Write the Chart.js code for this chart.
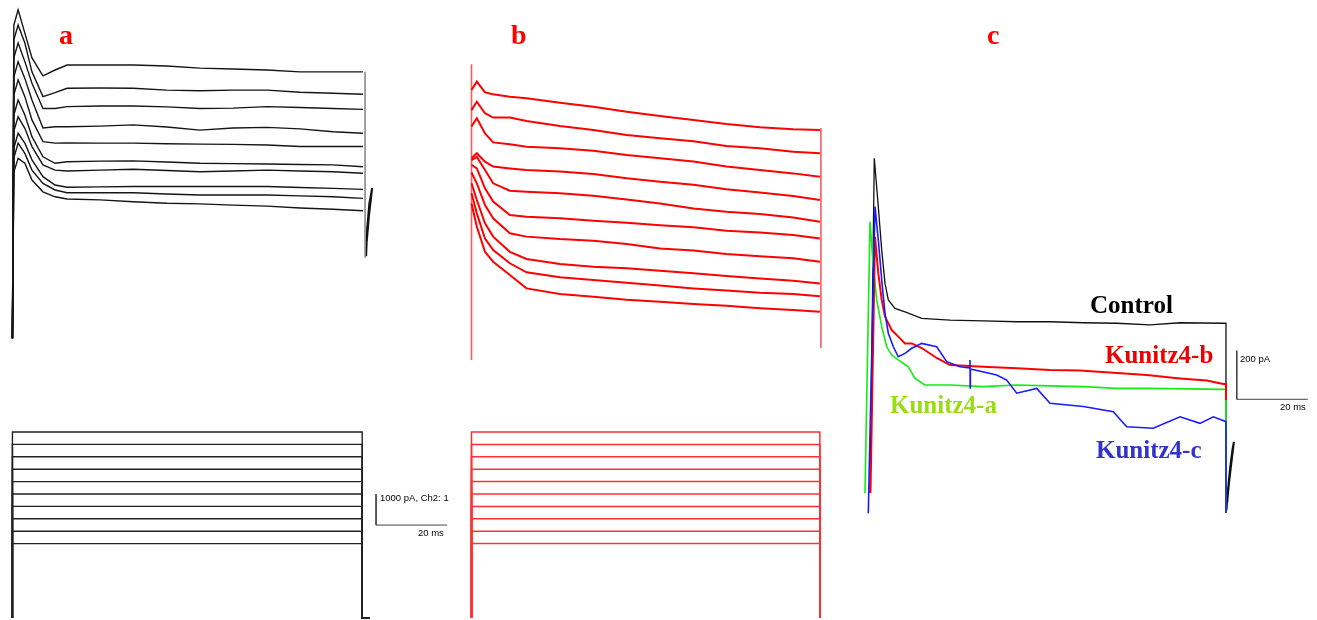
<!DOCTYPE html>
<html>
<head>
<meta charset="utf-8">
<title>Kunitz4 current traces</title>
<script src="https://cdn.jsdelivr.net/npm/chart.js@4.4.1/dist/chart.umd.min.js"></script>
<style>
  html, body { margin: 0; padding: 0; background: #fff; }
  #page { position: relative; width: 1317px; height: 620px; overflow: hidden; }
  canvas { position: absolute; top: 0; }
  .lbl { position: absolute; white-space: nowrap; line-height: 1; }
  .panel { font-family: "Liberation Serif", "Times New Roman", serif; font-weight: bold; color: #ff0000; font-size: 28px; }
  .trace { font-family: "Liberation Serif", "Times New Roman", serif; font-weight: bold; font-size: 25px; }
  .scale { font-family: "Liberation Sans", Arial, sans-serif; font-size: 9.5px; color: #000; }
</style>
</head>
<body>
<div id="page">
  <canvas id="panel-a" width="460" height="620" style="left:0px"></canvas>
  <canvas id="panel-b" width="380" height="620" style="left:460px"></canvas>
  <canvas id="panel-c" width="467" height="620" style="left:850px"></canvas>

  <div class="lbl panel" style="left:59px;top:21px">a</div>
  <div class="lbl panel" style="left:511px;top:21px">b</div>
  <div class="lbl panel" style="left:987px;top:21px">c</div>

  <div class="lbl trace" style="left:1090px;top:292px;color:#000">Control</div>
  <div class="lbl trace" style="left:1105px;top:342px;color:#ee0000">Kunitz4-b</div>
  <div class="lbl trace" style="left:890px;top:392px;color:#99dd11">Kunitz4-a</div>
  <div class="lbl trace" style="left:1096px;top:437px;color:#3333cc">Kunitz4-c</div>

  <div class="lbl scale" style="left:380px;top:493px">1000 pA, Ch2: 1</div>
  <div class="lbl scale" style="left:418px;top:528px">20 ms</div>
  <div class="lbl scale" style="left:1240px;top:354px">200 pA</div>
  <div class="lbl scale" style="left:1280px;top:402px">20 ms</div>
</div>

<script>
// ---- panel a: control currents (nA) on a 100 ms step ----
const timeA = [0, 0.4, 1.6, 3.5, 5.5, 8.6, 12, 15.4, 24.7, 34, 43.5, 52.8, 62.1, 71.7, 81, 90.3, 98.7];
const currentA = [
  [0.06, 10.16, 10.65, 9.90, 9.10, 8.52, 8.71, 8.87, 8.87, 8.87, 8.84, 8.77, 8.74, 8.71, 8.65, 8.65, 8.65],
  [0.06, 9.68, 10.16, 9.58, 8.65, 7.85, 7.98, 8.12, 8.13, 8.12, 8.06, 8.04, 8.06, 8.06, 7.99, 7.96, 7.93],
  [0.06, 9.10, 9.58, 8.98, 8.28, 7.47, 7.47, 7.53, 7.55, 7.55, 7.52, 7.47, 7.48, 7.53, 7.50, 7.47, 7.44],
  [0.06, 8.48, 8.98, 8.44, 7.74, 6.84, 6.88, 6.88, 6.90, 6.94, 6.87, 6.77, 6.84, 6.86, 6.81, 6.72, 6.67],
  [0.06, 7.90, 8.39, 7.85, 7.10, 6.40, 6.35, 6.36, 6.35, 6.35, 6.33, 6.32, 6.31, 6.29, 6.24, 6.24, 6.24],
  [0.06, 7.26, 7.74, 7.26, 6.56, 5.91, 5.70, 5.75, 5.77, 5.78, 5.74, 5.70, 5.69, 5.68, 5.66, 5.65, 5.59],
  [0.06, 6.74, 7.20, 6.83, 6.24, 5.65, 5.48, 5.45, 5.48, 5.51, 5.47, 5.43, 5.45, 5.48, 5.45, 5.43, 5.38],
  [0.06, 6.19, 6.67, 6.35, 5.81, 5.27, 5.00, 4.93, 4.94, 4.95, 4.95, 4.95, 4.95, 4.95, 4.92, 4.89, 4.86],
  [0.06, 5.87, 6.35, 6.02, 5.48, 5.05, 4.84, 4.75, 4.75, 4.75, 4.71, 4.68, 4.68, 4.68, 4.65, 4.62, 4.57],
  [0.06, 5.42, 5.86, 5.70, 5.16, 4.78, 4.62, 4.55, 4.52, 4.46, 4.41, 4.39, 4.35, 4.32, 4.26, 4.22, 4.17]
];
const tailTimeA = [99.3, 99.3];
const tailA = [8.65, 2.65];
const squiggleTimeA = [99.6, 99.9, 100.5, 101.3, 100.4, 99.8];
const squiggleA = [2.7, 3.6, 4.4, 4.9, 4.0, 3.2];

// ---- panel b: currents with toxin (nA) ----
const timeB = [0, 1.5, 3.8, 6.1, 10.8, 15.5, 24.9, 34.3, 43.7, 53.1, 62.5, 71.8, 81.2, 90.6, 98.1];
const currentB = [
  [8.71, 8.98, 8.63, 8.57, 8.49, 8.44, 8.30, 8.17, 8.01, 7.87, 7.74, 7.61, 7.51, 7.44, 7.42],
  [8.06, 8.33, 7.96, 7.82, 7.82, 7.71, 7.55, 7.42, 7.26, 7.15, 7.06, 6.90, 6.83, 6.72, 6.67],
  [7.53, 7.80, 7.31, 7.02, 6.96, 6.88, 6.83, 6.75, 6.61, 6.51, 6.40, 6.24, 6.13, 6.02, 5.91],
  [6.51, 6.67, 6.40, 6.24, 6.18, 6.13, 6.08, 6.00, 5.86, 5.75, 5.65, 5.51, 5.40, 5.29, 5.16],
  [6.45, 6.55, 6.13, 5.70, 5.46, 5.43, 5.38, 5.30, 5.18, 5.05, 4.89, 4.78, 4.71, 4.60, 4.46],
  [6.30, 6.18, 5.54, 5.11, 4.68, 4.62, 4.57, 4.49, 4.43, 4.35, 4.28, 4.17, 4.11, 4.03, 3.92],
  [6.05, 5.70, 5.00, 4.57, 4.09, 3.98, 3.90, 3.85, 3.74, 3.60, 3.53, 3.42, 3.35, 3.28, 3.17],
  [5.70, 5.16, 4.41, 3.98, 3.49, 3.26, 3.10, 3.01, 2.96, 2.88, 2.80, 2.71, 2.63, 2.56, 2.47],
  [5.38, 4.73, 3.92, 3.55, 3.12, 2.83, 2.67, 2.58, 2.49, 2.40, 2.31, 2.24, 2.17, 2.13, 2.06],
  [5.05, 4.30, 3.49, 3.17, 2.74, 2.31, 2.13, 2.04, 1.94, 1.88, 1.81, 1.75, 1.67, 1.61, 1.56]
];
const edgeTimeB = [0, 98.4];
const edgeB = [[9.54, 0], [7.48, 0.39]];

// ---- voltage protocol (mV) ----
const stepLevels = [50, 40, 30, 20, 10, 0, -10, -20, -30, -40];
const holdingV = -100;
const stepEndA = 98.5;
const stepEndB = 98.1;

// ---- panel c: overlay of control and Kunitz4 fractions (pA) ----
const timeControl = [0.28, 1.49, 2.62, 3.58, 4.51, 5.44, 7.32, 10.14, 14.85, 22.82, 32.2, 41.61, 51.0, 60.37, 69.77, 79.15, 87.61, 99.8, 100.56, 100.56];
const control = [49, 1427, 1228, 1049, 912, 844, 809, 795, 768, 761, 758, 754, 754, 750, 748, 741, 750, 748, 748, -33];
const timeK4b = [0.42, 1.69, 2.62, 3.58, 4.51, 6.39, 8.25, 10.14, 12.03, 14.85, 19.07, 22.82, 32.2, 41.61, 51.0, 59.44, 68.82, 78.23, 87.61, 95.13, 99.8, 100.56, 100.56];
const k4b = [49, 1104, 954, 844, 775, 720, 693, 665, 665, 646, 605, 576, 569, 563, 556, 553, 544, 535, 521, 512, 498, 498, 432];
const timeK4a = [-1.13, 0.28, 1.21, 2.17, 3.58, 4.99, 6.39, 8.25, 11.07, 12.96, 15.77, 22.82, 32.2, 41.61, 51.0, 60.37, 69.77, 79.15, 99.8, 100.56, 100.56];
const k4a = [48, 1166, 981, 844, 734, 651, 617, 597, 569, 521, 494, 494, 487, 494, 490, 487, 480, 480, 476, 476, -33];
const timeK4c = [-0.2, 1.69, 2.62, 3.58, 4.51, 5.44, 6.85, 8.25, 10.14, 12.03, 14.85, 19.07, 21.89, 25.63, 28.39, 28.45, 28.51, 28.56, 35.97, 38.79, 41.61, 47.24, 51.0, 60.37, 68.82, 72.59, 80.08, 87.61, 93.24, 96.99, 100.56, 100.56];
const k4c = [-34, 1228, 1091, 926, 789, 707, 651, 610, 624, 645, 665, 651, 590, 569, 564, 597, 482, 560, 535, 514, 460, 480, 419, 405, 384, 322, 316, 363, 336, 363, 343, -33];
const squiggleTimeC = [100.7, 101.1, 101.7, 102.4, 102.8, 102.3, 101.4, 100.9];
const squiggleC = [-20, 60, 150, 230, 260, 200, 90, 10];

function series(times, values) {
  return times.map((t, i) => ({ x: t, y: values[i] }));
}

function stepSeries(level, endTime, tail) {
  const pts = [
    { x: 0, y: holdingV },
    { x: 0, y: level },
    { x: endTime, y: level },
    { x: endTime, y: holdingV }
  ];
  if (tail) pts.push({ x: tail, y: holdingV });
  return pts;
}

function line(data, color, width, axis) {
  return {
    data: data,
    borderColor: color,
    borderWidth: width,
    pointRadius: 0,
    fill: false,
    tension: 0,
    yAxisID: axis || "y"
  };
}

function options(xMin, xMax, yMin, yMax, vMin, vMax) {
  return {
    responsive: false,
    animation: false,
    events: [],
    layout: { padding: 0 },
    plugins: { legend: { display: false }, tooltip: { enabled: false } },
    scales: {
      x: { type: "linear", axis: "x", display: false, min: xMin, max: xMax },
      y: { type: "linear", axis: "y", display: false, min: yMin, max: yMax },
      v: { type: "linear", axis: "y", position: "right", display: false, min: vMin, max: vMax }
    }
  };
}

// panel a
const datasetsA = [];
currentA.forEach((row) => datasetsA.push(line(series(timeA, row), "#151515", 1.4)));
datasetsA.push(line(series(tailTimeA, tailA), "#8a8a8a", 1.6));
datasetsA.push(line(series(squiggleTimeA, squiggleA), "#111", 2));
stepLevels.forEach((v) => datasetsA.push(line(stepSeries(v, stepEndA, 100.7), "#222", 1.4, "v")));
// 1000 pA / 20 ms scale bar
datasetsA.push(line([{ x: 102.4, y: -4.97 }, { x: 102.4, y: -5.97 }, { x: 122.4, y: -5.97 }], "#444", 1));

new Chart(document.getElementById("panel-a"), {
  type: "line",
  data: { datasets: datasetsA },
  options: options(-3.5, 126.04, -9.032, 10.968, -101.6, 398.4)
});

// panel b
const datasetsB = [];
currentB.forEach((row) => datasetsB.push(line(series(timeB, row), "#ff0000", 2)));
edgeB.forEach((pair, i) => datasetsB.push(line(series([edgeTimeB[i], edgeTimeB[i]], pair), "#ff5a5a", 1.6)));
stepLevels.forEach((v) => datasetsB.push(line(stepSeries(v, stepEndB), "#ff3030", 1.5, "v")));

new Chart(document.getElementById("panel-b"), {
  type: "line",
  data: { datasets: datasetsB },
  options: options(-3.24, 103.77, -8.387, 11.613, -101.6, 398.4)
});

// panel c (first dataset is drawn on top)
new Chart(document.getElementById("panel-c"), {
  type: "line",
  data: {
    datasets: [
      line(series(timeK4c, k4c), "#1a1aff", 1.6),
      line(series(timeK4b, k4b), "#ff0000", 2),
      line(series(timeK4a, k4a), "#11ee11", 1.6),
      line(series(timeControl, control), "#111", 1.3),
      line(series(squiggleTimeC, squiggleC), "#111", 2),
      // 200 pA / 20 ms scale bar
      line([{ x: 103.6, y: 635 }, { x: 103.6, y: 435 }, { x: 123.6, y: 435 }], "#444", 1)
    ]
  },
  options: options(-5.352, 126.2, -473.3, 2078.2, -101.6, 398.4)
});
</script>
</body>
</html>
